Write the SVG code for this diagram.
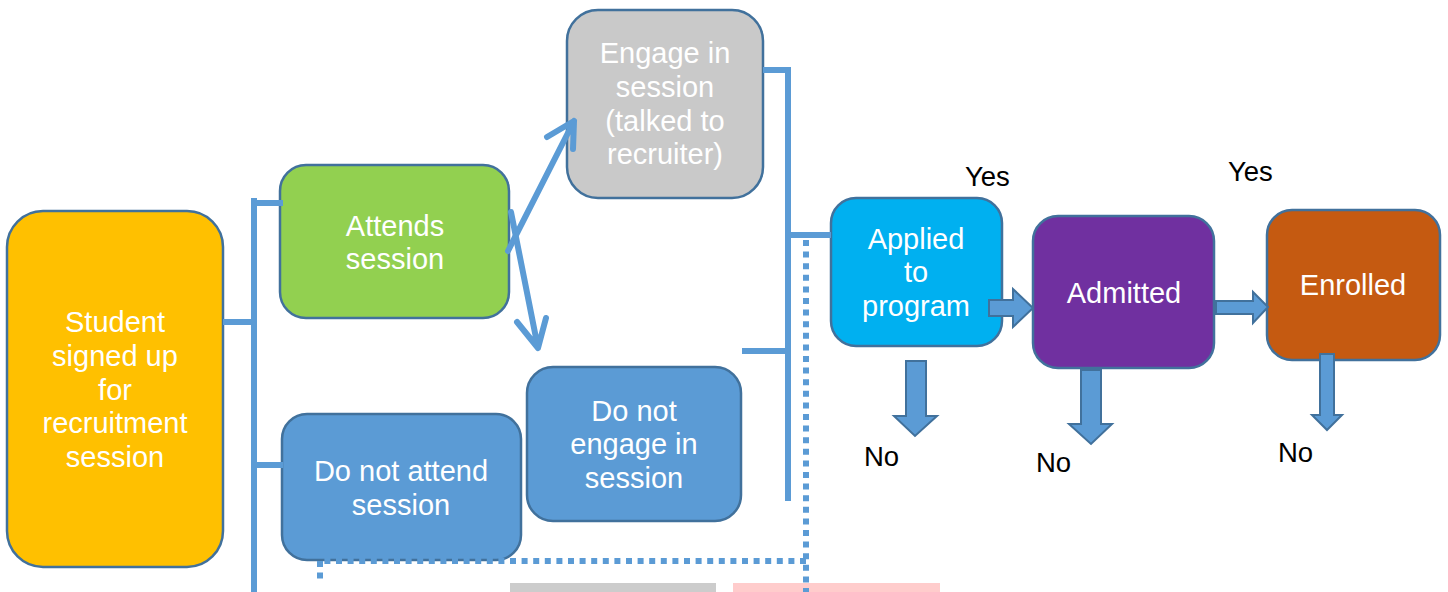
<svg xmlns="http://www.w3.org/2000/svg" width="1448" height="592" viewBox="0 0 1448 592">
<style>
.box{stroke:#41719C;stroke-width:2.5}
.t{font-family:"Liberation Sans",Arial,sans-serif;font-size:29px;fill:#FFFFFF;text-anchor:middle}
.lbl{font-family:"Liberation Sans",Arial,sans-serif;font-size:27.5px;fill:#000000}
.ln{stroke:#5B9BD5;stroke-width:6;fill:none}
.dot{stroke:#5B9BD5;stroke-width:6;fill:none;stroke-dasharray:6 5.6}
.ar{stroke:#5B9BD5;stroke-width:6;fill:none;stroke-linecap:round;stroke-linejoin:round}
.blk{fill:#5B9BD5;stroke:#41719C;stroke-width:2}
</style>
<rect x="510" y="583" width="206" height="12" fill="#CCCCCC"/>
<rect x="733" y="583" width="207" height="12" fill="#FFCCCC"/>
<g id="student">
<rect class="box" x="7" y="211" width="216" height="356" rx="36" fill="#FFC000"/>
<text class="t" x="115" y="332">Student</text>
<text class="t" x="115" y="366">signed up</text>
<text class="t" x="115" y="400">for</text>
<text class="t" x="115" y="433">recruitment</text>
<text class="t" x="115" y="467">session</text>
</g>
<g id="attends">
<rect class="box" x="280" y="165" width="229" height="153" rx="26" fill="#92D050"/>
<text class="t" x="395" y="236">Attends</text>
<text class="t" x="395" y="269">session</text>
</g>
<g id="notattend">
<rect class="box" x="282" y="414" width="239" height="146" rx="25" fill="#5B9BD5"/>
<text class="t" x="401" y="481">Do not attend</text>
<text class="t" x="401" y="515">session</text>
</g>
<g id="engage">
<rect class="box" x="567" y="10" width="196" height="188" rx="31" fill="#C9C9C9"/>
<text class="t" x="665" y="63">Engage in</text>
<text class="t" x="665" y="97">session</text>
<text class="t" x="665" y="131">(talked to</text>
<text class="t" x="665" y="164">recruiter)</text>
</g>
<g id="notengage">
<rect class="box" x="527" y="367" width="214" height="154" rx="26" fill="#5B9BD5"/>
<text class="t" x="634" y="421">Do not</text>
<text class="t" x="634" y="454">engage in</text>
<text class="t" x="634" y="488">session</text>
</g>
<g id="applied">
<rect class="box" x="831" y="198" width="171" height="148" rx="25" fill="#00B0F0"/>
<text class="t" x="916" y="249">Applied</text>
<text class="t" x="916" y="282">to</text>
<text class="t" x="916" y="316">program</text>
</g>
<g id="admitted">
<rect class="box" x="1033" y="216" width="181" height="152" rx="25" fill="#7030A0"/>
<text class="t" x="1124" y="303">Admitted</text>
</g>
<g id="enrolled">
<rect class="box" x="1267" y="210" width="173" height="150" rx="25" fill="#C55A11"/>
<text class="t" x="1353" y="295">Enrolled</text>
</g>
<g id="connectors">
<path class="ln" d="M223 322 H254 M254 198 V592 M252 203 H283 M254 465 H283"/>
<path class="ar" d="M508 251 L574 121 M547 137 L574 121 L573 149"/>
<path class="ar" d="M511 212 L538 348 M517 322 L538 348 L546 318"/>
<path class="ln" d="M763 70 H790 M788 67 V501 M788 235 H831 M742 351 H788"/>
<path class="dot" d="M806 240 V592 M806 561 H320 M320 561 V582"/>
<path class="blk" d="M989 300 H1013 V289 L1033 308 L1013 327 V316 H989 Z"/>
<path class="blk" d="M1216 301 H1253 V292 L1268 307 L1253 323 V314 H1216 Z"/>
<path class="blk" d="M906 361 H926 V416 H937 L915 436 L894 416 H906 Z"/>
<path class="blk" d="M1081 370 H1101 V424 H1112 L1091 444 L1069 424 H1081 Z"/>
<path class="blk" d="M1320 354 H1334 V415 H1342 L1327 430 L1312 415 H1320 Z"/>
</g>
<g id="labels">
<text class="lbl" x="965" y="186">Yes</text>
<text class="lbl" x="1228" y="181">Yes</text>
<text class="lbl" x="864" y="466">No</text>
<text class="lbl" x="1036" y="472">No</text>
<text class="lbl" x="1278" y="462">No</text>
</g>
</svg>
